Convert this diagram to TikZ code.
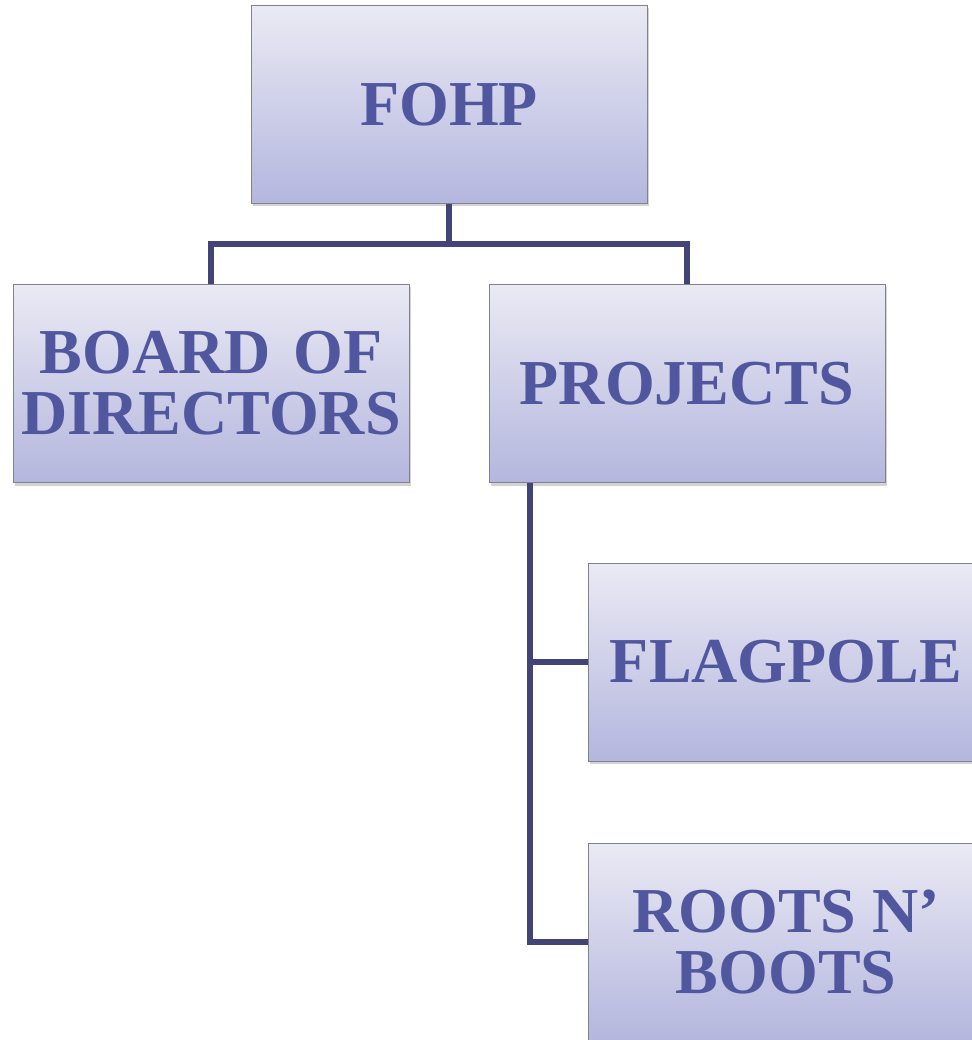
\documentclass[tikz,border=0pt]{standalone}
\usepackage{fontspec}
\setmainfont{Liberation Serif}
\usetikzlibrary{shadows}
\definecolor{boxtop}{RGB}{234,234,244}
\definecolor{boxbot}{RGB}{180,182,222}
\definecolor{boxline}{RGB}{130,130,140}
\definecolor{txtcol}{RGB}{80,87,158}
\definecolor{conncol}{RGB}{66,68,118}
\tikzset{
  orgbox/.style={rectangle, draw=boxline, line width=1pt,
    top color=boxtop, bottom color=boxbot,
    minimum width=396pt, minimum height=198pt, inner sep=0pt,
    align=center, text=txtcol,
    font=\fontsize{64}{61}\selectfont\bfseries,
    drop shadow={opacity=0.35, shadow xshift=2pt, shadow yshift=-3pt}},
  conn/.style={draw=conncol, line width=6pt, line cap=butt, line join=miter}
}
\begin{document}
\begin{tikzpicture}[x=1pt,y=-1pt]
\useasboundingbox (0,0) rectangle (971,1040);
\coordinate (j) at (449,244);
\coordinate (pv) at (530,483);
\node[orgbox] (fohp) at (449,104.5) {FOHP};
\node[orgbox] (board) at (211,383.5) {BOARD\hspace{0.35em}OF\\DIRECTORS};
\node[orgbox] (projects) at (687,383.5) {PROJECTS};
\node[orgbox] (flag) at (786,662) {FLAGPOLE};
\node[orgbox] (roots) at (786,942) {ROOTS N’\\BOOTS};
\draw[conn] (fohp.south) -- (j);
\draw[conn] (board.north) |- (j) -| (projects.north);
\draw[conn] (pv) |- (flag.west);
\draw[conn] (pv) |- (roots.west);
\end{tikzpicture}
\end{document}
